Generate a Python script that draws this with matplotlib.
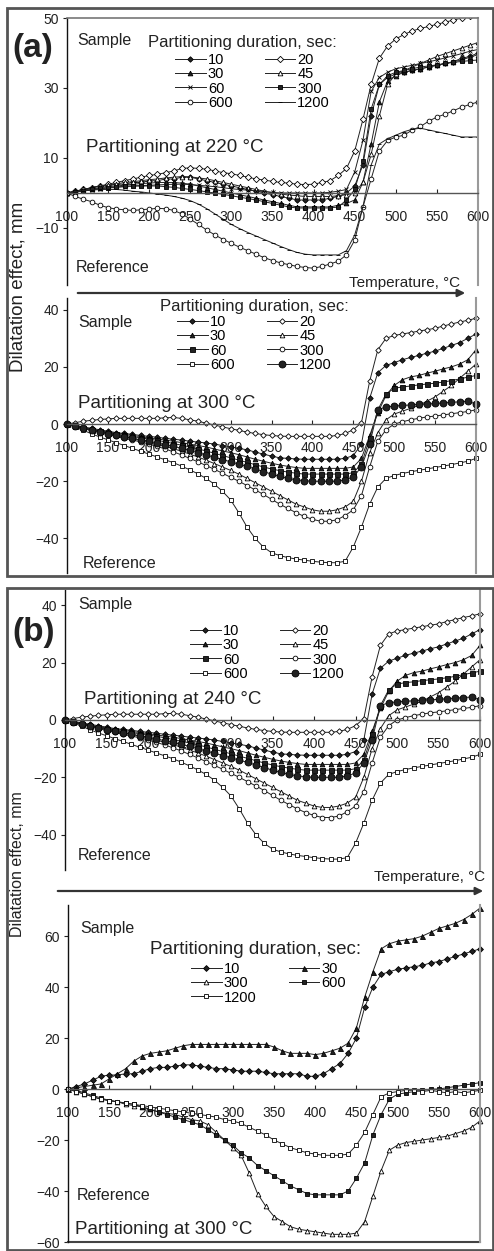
import matplotlib
matplotlib.use("Agg")
import matplotlib.pyplot as plt
from matplotlib.patches import Rectangle, FancyArrowPatch

plt.rcParams["font.family"] = ["Liberation Sans", "DejaVu Sans"]

# --- DATA -------------------------------------------------------------
temps = [100, 110, 120, 130, 140, 150, 160, 170, 180, 190,
         200, 210, 220, 230, 240, 250, 260, 270, 280, 290,
         300, 310, 320, 330, 340, 350, 360, 370, 380, 390,
         400, 410, 420, 430, 440, 450, 460, 470, 480, 490,
         500, 510, 520, 530, 540, 550, 560, 570, 580, 590, 600]

# (a) partitioning at 220 C
a_10 = [0, 0.5, 1, 1.5, 2, 2, 2.5, 2.5, 3, 3,
        3.5, 3.5, 4, 4, 4.5, 4.5, 4, 3.5, 3, 2.5,
        2, 1.5, 1, 0.5, 0, -0.5, -1, -1.5, -2, -2,
        -2, -2, -1.5, -1, 0, 2, 8, 22, 31, 33,
        34, 34.5, 35, 35.5, 36, 36.5, 37, 37.5, 38.5, 39, 40]
a_20 = [0, 0.5, 1, 1.5, 2, 2.5, 3, 3.5, 4, 4.5,
        5, 5.3, 5.8, 6.3, 7, 7.2, 7, 6.8, 6.3, 5.8,
        5.5, 5, 4.5, 4, 3.7, 3.3, 3, 2.8, 2.5, 2.4,
        2.5, 3, 3.5, 5, 7, 12, 21, 31, 38.5, 42,
        44, 45.3, 46.3, 47, 47.6, 48.2, 48.8, 49.4, 50, 50.5, 51]
a_30 = [0, 0.4, 0.8, 1.2, 1.5, 1.8, 2, 2.2, 2.5, 2.7,
        2.8, 3, 3, 3, 2.8, 2.5, 2, 1.5, 1, 0.5,
        0, -0.5, -1, -1.5, -2, -2.5, -3, -3.5, -4, -4,
        -4, -4, -4, -3.5, -3, -2, 3, 14, 26, 32,
        33.5, 34.5, 35, 35.5, 36, 36.5, 37, 37.5, 38, 38.8, 39.5]
a_45 = [0, 0.5, 1, 1.5, 2, 2.3, 2.6, 3, 3.2, 3.5,
        3.8, 4, 4.3, 4.5, 4.7, 4.6, 4.3, 4, 3.5, 3,
        2.5, 2, 1.5, 1, 0.5, 0, -0.3, -0.6, -0.8, -1,
        -1, -1, -1, -0.8, -0.5, 0, 3, 11, 22, 31,
        34, 35, 36, 37, 38, 39, 39.8, 40.6, 41.4, 42.2, 43]
a_60 = [0, 0.3, 0.6, 0.9, 1.2, 1.4, 1.6, 1.8, 2, 2.1,
        2.2, 2.3, 2.4, 2.5, 2.5, 2.4, 2.2, 2, 1.8, 1.5,
        1.2, 1, 0.8, 0.6, 0.4, 0.2, 0, 0, 0, 0,
        0, 0, 0.2, 0.5, 1, 6, 15, 29, 33, 34.5,
        35.5, 36, 36.5, 37, 37.5, 38, 38.6, 39.2, 39.8, 40.5, 41]
a_300 = [0, 0.3, 0.6, 1, 1.3, 1.5, 1.7, 1.9, 2, 2,
         2, 2, 1.8, 1.6, 1.3, 1, 0.7, 0.3, 0, -0.4,
         -0.8, -1.2, -1.6, -2, -2.5, -3, -3.5, -4, -4.3, -4.3,
         -4.3, -4.3, -4.3, -4, -2, 1, 9, 24, 31, 33.5,
         34.5, 35, 35.5, 36, 36.3, 36.6, 37, 37.3, 37.6, 37.8, 38]
a_600 = [0, -1, -1.8, -2.5, -3.5, -4.2, -4.6, -4.8, -5, -4.8,
         -4.6, -4.4, -4.5, -5, -6, -7.5, -9, -10.6, -12, -13.3,
         -14.4, -15.5, -16.5, -17.5, -18.5, -19.3, -20, -20.5, -21, -21.3,
         -21.5, -21, -20.3, -19.5, -17.7, -13.5, -4, 4, 12, 15,
         16, 16.5, 18, 19, 20.5, 21.7, 22.5, 23.5, 24.5, 25.3, 26]
a_1200 = [0, 0.3, 0.6, 0.8, 1, 1, 1, 0.8, 0.5, 0.3,
          0, -0.3, -0.6, -1, -1.5, -2.2, -3.2, -4.5, -6, -7.5,
          -9, -10.2, -11.3, -12.3, -13.3, -14.3, -15.3, -16.2, -17, -17.5,
          -17.7, -17.7, -17.7, -17.7, -16.5, -12, -4, 8, 14, 15.5,
          16.5, 17.5, 18.2, 18.5, 18, 17.5, 17, 16.5, 16, 16, 16]

# partitioning at 300 C (same run shown in (a) lower and (b) upper chart)
s_10 = [0, -0.5, -1, -1.5, -2, -2.5, -3, -3.3, -3.6, -4,
        -4.3, -4.6, -5, -5.3, -5.6, -6, -6.3, -6.6, -7, -7.5,
        -8, -8.5, -9, -9.8, -10.5, -11.2, -11.8, -12, -12.2, -12.3,
        -12.3, -12.3, -12.3, -12.3, -12, -11, -7, 9, 18, 20.5,
        21.5, 22.5, 23.3, 24, 24.8, 25.5, 26.5, 27.5, 28.5, 30, 31.5]
s_20 = [0, 0.5, 1, 1.3, 1.6, 1.8, 2, 2, 2, 2,
        2, 2, 2.2, 2.3, 2, 1.5, 1, 0.3, -0.3, -1,
        -1.6, -2.2, -2.8, -3.3, -3.7, -4, -4.2, -4.3, -4.3, -4.3,
        -4.3, -4.3, -4.3, -4, -3.3, -2, 0.5, 15, 26, 30,
        31, 31.5, 32, 32.5, 33, 33.5, 34.3, 35, 35.7, 36.3, 37]
s_30 = [0, -0.6, -1.2, -1.8, -2.3, -2.8, -3.2, -3.6, -4, -4.4,
        -4.8, -5.2, -5.6, -6, -6.5, -7, -7.5, -8, -8.7, -9.4,
        -10, -10.7, -11.5, -12.3, -13, -13.7, -14.3, -14.8, -15.2, -15.5,
        -15.5, -15.5, -15.5, -15.5, -15.5, -15, -12, -4, 4, 10,
        13.5, 15.5, 16.5, 17, 17.8, 18.5, 19.3, 20, 21, 22.5, 26]
s_45 = [0, -0.7, -1.4, -2, -2.6, -3.2, -3.8, -4.4, -5, -5.6,
        -6.2, -7, -7.8, -8.6, -9.5, -10.5, -11.5, -12.6, -13.8, -15,
        -16.2, -17.5, -19, -20.5, -22, -23.5, -25, -26.5, -28, -29,
        -30, -30.5, -30.5, -30, -29, -27, -20, -10, -3, 1.5,
        3.5, 4.5, 5.5, 6.5, 8, 9.5, 11.5, 13.5, 16, 18.5, 21]
s_60 = [0, -0.7, -1.4, -2, -2.5, -3, -3.5, -4, -4.4, -4.8,
        -5.2, -5.7, -6.2, -6.8, -7.4, -8, -8.7, -9.4, -10.2, -11,
        -11.8, -12.6, -13.4, -14.2, -15, -15.7, -16.3, -16.8, -17.2, -17.5,
        -17.5, -17.5, -17.5, -17.5, -17.5, -17, -14, -5, 5, 10.5,
        12.5, 13, 13.3, 13.7, 14, 14.3, 14.7, 15.2, 15.8, 16.4, 17]
s_300 = [0, -0.8, -1.6, -2.3, -3, -3.7, -4.3, -5, -5.6, -6.2,
         -7, -7.8, -8.7, -9.7, -10.8, -12, -13.2, -14.5, -15.8, -17.2,
         -18.6, -20, -21.5, -23, -24.6, -26.3, -28, -29.5, -31, -32.3,
         -33.3, -34, -34, -33.5, -32, -30, -25, -15, -6, -2,
         0, 0.8, 1.5, 2, 2.5, 2.8, 3.2, 3.6, 4, 4.4, 5]
s_600 = [0, -1, -2.2, -3.4, -4.5, -5.5, -6.5, -7.5, -8.5, -9.5,
         -10.5, -11.5, -12.5, -13.5, -14.7, -16, -17.4, -19, -21, -23.5,
         -26.5, -31, -36, -40, -43, -45, -46, -46.7, -47.2, -47.6,
         -48, -48.3, -48.5, -48.5, -48, -43, -36, -28, -22, -19,
         -18, -17.3, -16.7, -16.2, -15.7, -15.2, -14.7, -14.2, -13.6, -13, -12]
s_1200 = [0, -0.7, -1.5, -2.2, -2.8, -3.4, -4, -4.5, -5, -5.5,
          -6, -6.6, -7.2, -7.8, -8.5, -9.2, -10, -10.8, -11.6, -12.4,
          -13.2, -14, -14.8, -15.7, -16.6, -17.5, -18.3, -19, -19.5, -19.8,
          -20, -20, -20, -20, -19.5, -18.5, -15, -7, 5, 6,
          6.3, 6.5, 6.7, 6.9, 7, 7.2, 7.4, 7.6, 7.8, 8, 7]

# (b) lower chart, partitioning at 300 C
b_10 = [0, 1, 2, 3.5, 5, 5.5, 5.5, 6, 6, 7,
        8, 8.5, 8.5, 9, 9.5, 9.5, 9, 8.5, 8, 8,
        7.5, 7, 7, 7, 6.5, 6, 6, 6, 6, 5,
        5, 6, 8, 10, 14, 20, 32, 40, 45, 46,
        47, 47.5, 48, 48.5, 49.5, 50, 51, 52, 53, 54, 55]
b_30 = [0, 0.5, 1, 1.5, 2, 4, 6, 8, 11, 13,
        14, 14.5, 15, 16, 17, 17.5, 17.5, 17.5, 17.5, 17.5,
        17.5, 17.5, 17.5, 17.5, 17.5, 16.5, 15, 14, 14, 14,
        13.5, 14, 15, 16, 18, 24, 36, 46, 55, 57,
        58, 58.5, 59, 60, 61.5, 63, 64, 65, 66.5, 68.5, 71]
b_300 = [0, -1, -2, -3, -4, -4.5, -5, -6, -6.5, -7,
         -8, -9, -9.5, -10, -11, -12, -12.5, -14, -17, -20,
         -23, -26, -33, -41, -46, -50, -52, -54, -55, -55.5,
         -56, -56.5, -57, -57, -57, -56.5, -52, -42, -32, -24,
         -22, -21, -20.5, -20, -19.5, -19, -18.5, -17.5, -16.5, -15, -12.5]
b_600 = [0, -0.5, -1.5, -2.5, -3.5, -4.5, -5, -5.5, -6, -7,
         -8, -9, -10, -11, -12, -13, -14, -16, -18, -20,
         -22, -25, -27, -30, -32, -34, -36, -38, -39.5, -41,
         -41.5, -41.5, -41.5, -41.5, -40, -35, -29, -18, -10, -4,
         -2, -1.5, -1, -0.5, 0, 0, 0.5, 1, 1.5, 2, 2.5]
b_1200 = [0, -1, -2, -3, -4, -4.5, -5, -5.5, -6, -6.5,
          -7, -7.5, -8, -8.5, -9, -9.5, -10, -10.5, -11, -12,
          -12.5, -13.5, -15, -16.5, -18, -20, -21.5, -23, -24, -25,
          -25.5, -26, -26, -26, -25.5, -22, -17, -10, -3, -1.5,
          -1, -0.5, -0.5, -1, -0.5, -1, -1.5, -1, -1.5, -1, -0.5]

x_ticks = [100, 150, 200, 250, 300, 350, 400, 450, 500, 550, 600]

# --- STYLE ------------------------------------------------------------
W, H = 494, 1251
LINE = "#222222"
LW = 0.7

def fx(x):
    return x / W

def fy(y):
    return 1 - y / H

def mk(marker, filled, ms=3.2):
    return dict(marker=marker, markersize=ms, color=LINE, lw=LW,
                markerfacecolor=LINE if filled else "white",
                markeredgecolor="black", markeredgewidth=0.6)

style_220 = {
    "10": mk("D", True, 2.8), "20": mk("D", False, 3.2),
    "30": mk("^", True, 3.4), "45": mk("^", False, 3.4),
    "60": mk("x", True, 3.4), "300": mk("s", True, 3.4),
    "600": mk("o", False, 3.4), "1200": mk("_", True, 3.0),
}
style_300 = {
    "10": mk("D", True, 2.8), "20": mk("D", False, 2.8),
    "30": mk("^", True, 3.4), "45": mk("^", False, 3.4),
    "60": mk("s", True, 3.6), "300": mk("o", False, 3.4),
    "600": mk("s", False, 3.2), "1200": mk("o", True, 5.0),
}
style_b2 = {
    "10": mk("D", True, 3.0), "30": mk("^", True, 3.6),
    "300": mk("^", False, 3.4), "600": mk("s", True, 3.4),
    "1200": mk("s", False, 3.4),
}

fig = plt.figure(figsize=(W / 100, H / 100), dpi=100)


def make_axes(l, t, r, b, ylo, yhi, yticks, top_border=False, bottom_border=False):
    ax = fig.add_axes([fx(l), fy(b), fx(r) - fx(l), fy(t) - fy(b)])
    ax.set_xlim(100, 600)
    ax.set_ylim(ylo, yhi)
    ax.set_xticks(x_ticks)
    ax.set_yticks(yticks)
    ax.spines["left"].set_color("#111111")
    ax.spines["left"].set_linewidth(1.0)
    ax.spines["right"].set_color("#9a9a9a")
    ax.spines["right"].set_linewidth(1.5)
    ax.spines["top"].set_visible(top_border)
    ax.spines["top"].set_color("#777777")
    ax.spines["top"].set_linewidth(1.2)
    ax.spines["bottom"].set_position(("data", 0))
    ax.spines["bottom"].set_color("#555555")
    ax.spines["bottom"].set_linewidth(1.0)
    ax.tick_params(axis="y", direction="out", length=3, pad=3, labelsize=10,
                   colors="#222222")
    ax.tick_params(axis="x", direction="in", length=3, pad=12, labelsize=10,
                   colors="#222222")
    if bottom_border:
        ax.axhline(ylo, color="#444444", lw=1.5, clip_on=False)
    ax.patch.set_alpha(0)
    return ax


def draw(ax, series, styles, clip=False):
    handles = {}
    for label, vals in series:
        (h,) = ax.plot(temps, vals, label=label, clip_on=clip, **styles[label])
        handles[label] = h
    return handles


def add_legend(ax, handles, order, x, y, fs):
    hs = [handles[k] for k in order]
    leg = ax.legend(hs, order, loc="upper left", ncol=2,
                    bbox_to_anchor=(fx(x), fy(y)), bbox_transform=fig.transFigure,
                    frameon=False, fontsize=fs, handlelength=2.1, handletextpad=0.15,
                    labelspacing=0.02, columnspacing=2.2, borderpad=0, borderaxespad=0)
    return leg


def txt(x, y, s, fs, **kw):
    fig.text(fx(x), fy(y), s, fontsize=fs, va="center", ha=kw.pop("ha", "left"),
             color="#222222", **kw)


def arrow(x0, x1, y):
    fig.add_artist(FancyArrowPatch((fx(x0), fy(y)), (fx(x1), fy(y)),
                                   transform=fig.transFigure, arrowstyle="-|>",
                                   mutation_scale=11, lw=1.6, color="#333333"))


# outer frames of (a) and (b)
fig.add_artist(Rectangle((fx(7), fy(576)), fx(493) - fx(7), fy(8) - fy(576),
                         transform=fig.transFigure, fill=False, lw=2, ec="#555555"))
fig.add_artist(Rectangle((fx(7), fy(1250)), fx(493) - fx(7), fy(588) - fy(1250),
                         transform=fig.transFigure, fill=False, lw=2, ec="#555555"))

# ---- (a) upper: 220 C
ax1 = make_axes(67, 18, 478, 285, -26.3, 50, [-10, 10, 30, 50], top_border=True)
h1 = draw(ax1, [("10", a_10), ("20", a_20), ("30", a_30), ("45", a_45),
                ("60", a_60), ("300", a_300), ("600", a_600), ("1200", a_1200)],
          style_220, clip=True)
add_legend(ax1, h1, ["10", "30", "60", "600", "20", "45", "300", "1200"], 175, 53, 10.5)
txt(12, 48, "(a)", 24, fontweight="bold")
txt(77, 40, "Sample", 11.5)
txt(148, 42, "Partitioning duration, sec:", 12)
txt(86, 148, "Partitioning at 220 \u00b0C", 13.5)
txt(76, 268, "Reference", 11.5)
txt(460, 283, "Temperature, \u00b0C", 11, ha="right")
arrow(75, 468, 293)
txt(18, 287, "Dilatation effect, mm", 13.5, rotation=90, ha="center")

# ---- (a) lower: 300 C
ax2 = make_axes(67, 298, 476, 573, -52.1, 44.1, [-40, -20, 0, 20, 40])
order8 = ["10", "20", "30", "45", "60", "300", "600", "1200"]
s300 = [s_10, s_20, s_30, s_45, s_60, s_300, s_600, s_1200]
h2 = draw(ax2, list(zip(order8, s300)), style_300)
add_legend(ax2, h2, ["10", "30", "60", "600", "20", "45", "300", "1200"], 177, 315, 10.5)
txt(160, 306, "Partitioning duration, sec:", 12)
txt(78, 323, "Sample", 11.5)
txt(78, 403, "Partitioning at 300 \u00b0C", 13.5)
txt(83, 563, "Reference", 11.5)

# ---- (b) upper: 240 C
ax3 = make_axes(65, 590, 480, 870, -52.3, 45.3, [-40, -20, 0, 20, 40])
h3 = draw(ax3, list(zip(order8, s300)), style_300)
add_legend(ax3, h3, ["10", "30", "60", "600", "20", "45", "300", "1200"], 190, 624, 10.5)
txt(12, 632, "(b)", 24, fontweight="bold")
txt(78, 604, "Sample", 11.5)
txt(84, 699, "Partitioning at 240 \u00b0C", 13.5)
txt(78, 856, "Reference", 11.5)
txt(485, 877, "Temperature, \u00b0C", 11, ha="right")
arrow(55, 486, 891)
txt(18, 864, "Dilatation effect, mm", 11.5, rotation=90, ha="center")

# ---- (b) lower: 300 C
ax4 = make_axes(68, 905, 480, 1242, -60, 72.2, [-60, -40, -20, 0, 20, 40, 60],
                bottom_border=True)
order5 = ["10", "30", "300", "600", "1200"]
h4 = draw(ax4, list(zip(order5, [b_10, b_30, b_300, b_600, b_1200])), style_b2)
add_legend(ax4, h4, ["10", "300", "1200", "30", "600"], 191, 962, 10.5)
txt(80, 928, "Sample", 11.5)
txt(150, 949, "Partitioning duration, sec:", 13.5)
txt(77, 1196, "Reference", 11.5)
txt(75, 1230, "Partitioning at 300 \u00b0C", 13.5)

fig.savefig("out.png", dpi=100)
